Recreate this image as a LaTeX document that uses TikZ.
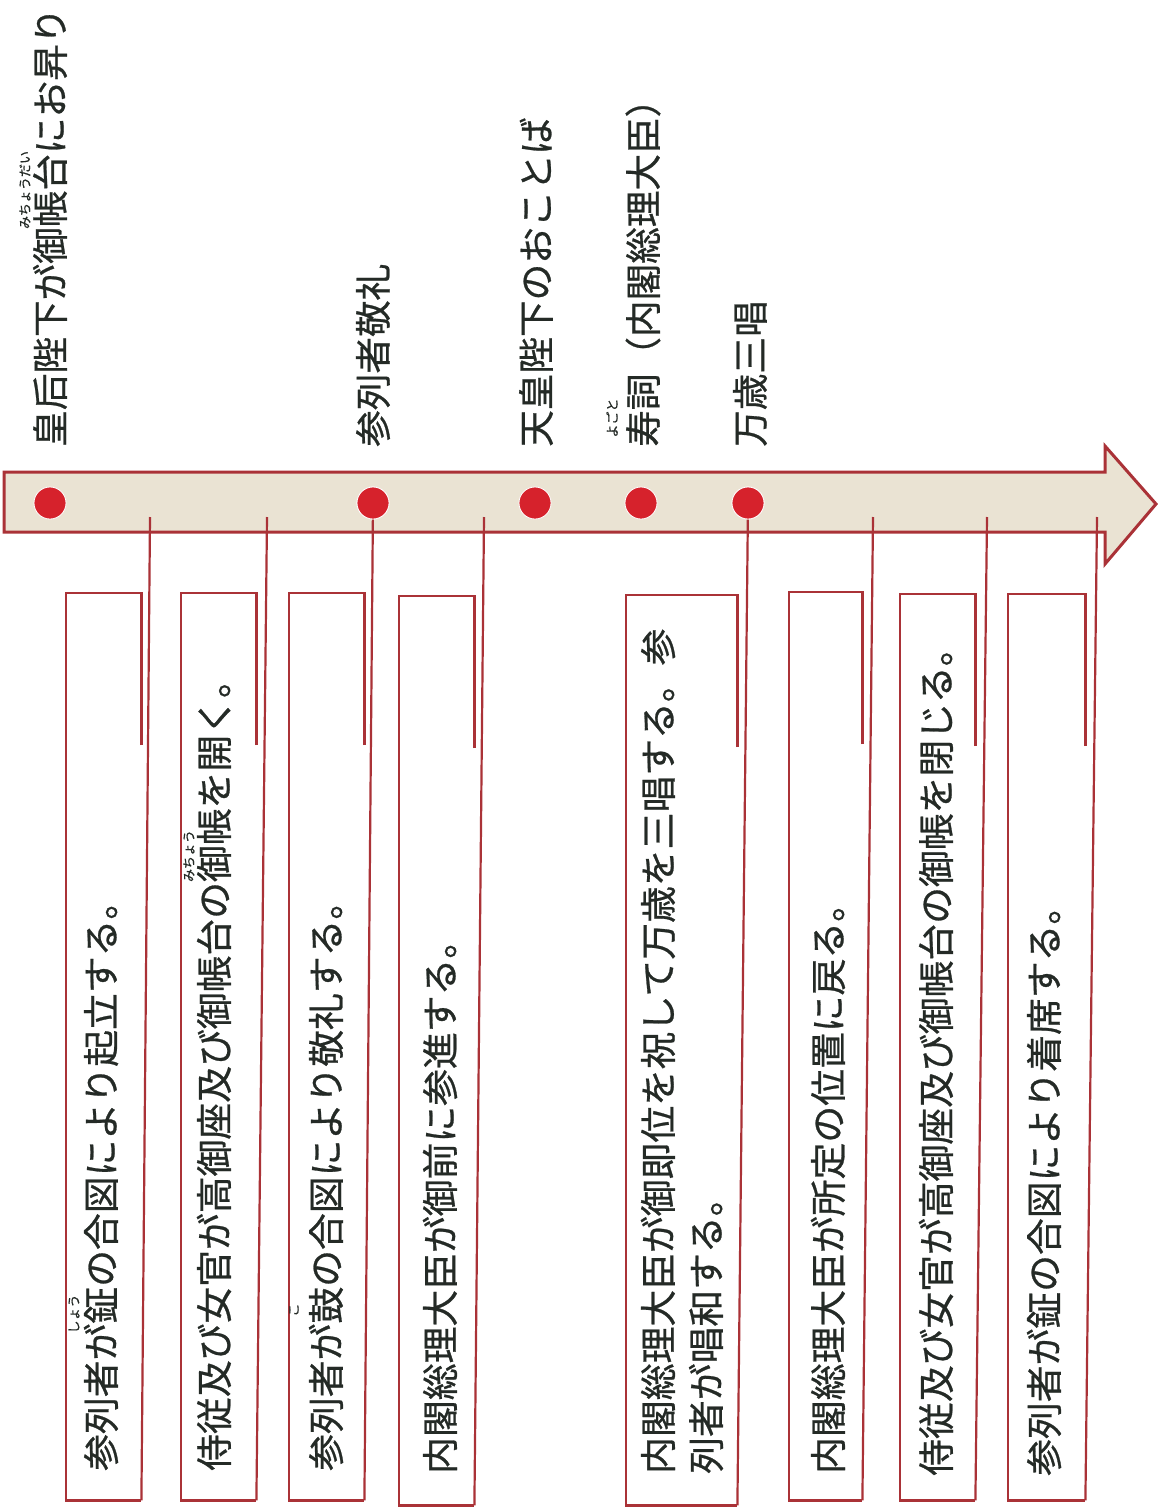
\documentclass[tikz,border=0pt]{standalone}
\usepackage{fontspec}
\newfontfamily\jp[FakeBold=0.7]{Noto Sans CJK JP}
\definecolor{bord}{RGB}{170,50,55}
\definecolor{dotred}{RGB}{214,34,44}
\definecolor{bandfill}{RGB}{234,227,211}
\definecolor{ink}{RGB}{36,42,38}
\tikzset{
  lbl/.style={rotate=90, anchor=west, inner sep=0pt, text=ink, font=\jp\fontsize{36.6}{40}\selectfont},
  btxt/.style={rotate=90, anchor=west, inner sep=0pt, text=ink, font=\jp\fontsize{36.8}{40}\selectfont},
  rb/.style={rotate=90, anchor=center, inner sep=0pt, text=ink, font=\jp\fontsize{13}{14}\selectfont},
  boxn/.style={rectangle, draw=none, inner sep=0pt, anchor=north west},
  boxline/.style={draw=bord, line width=2.2pt},
  conn/.style={draw=bord, line width=2.2pt},
  dotn/.style={circle, fill=dotred, draw=white, line width=0.8pt, minimum size=32pt, inner sep=0pt},
}
\begin{document}
\begin{tikzpicture}[x=1pt,y=-1pt]
\useasboundingbox (0,0) rectangle (1160,1509);
\fill[white] (0,0) rectangle (1160,1509);
% timeline arrow
\draw[draw=bord, fill=bandfill, line width=3pt, line join=miter]
  (4,472) -- (1105,472) -- (1105,446) -- (1156,504) -- (1105,564) -- (1105,532) -- (4,532) -- cycle;
% band connection points
\coordinate (t1) at (150,517);
\coordinate (t2) at (267,517);
\coordinate (t4) at (484,517);
\coordinate (t6) at (873,517);
\coordinate (t7) at (987,517);
\coordinate (t8) at (1097,517);
% dots
\node[dotn] (d1) at (50,503) {};
\node[dotn] (d2) at (373,503) {};
\node[dotn] (d3) at (535,503) {};
\node[dotn] (d4) at (641,503) {};
\node[dotn] (d5) at (748,503) {};
% boxes
\node[boxn, minimum width=75pt, minimum height=907pt] (b1) at (66,593) {};
\node[boxn, minimum width=75pt, minimum height=907pt] (b2) at (181,593) {};
\node[boxn, minimum width=75pt, minimum height=907pt] (b3) at (289,593) {};
\node[boxn, minimum width=75pt, minimum height=909pt] (b4) at (399,596) {};
\node[boxn, minimum width=111pt, minimum height=910pt] (b5) at (626,595) {};
\node[boxn, minimum width=73pt, minimum height=908pt] (b6) at (789,592) {};
\node[boxn, minimum width=75pt, minimum height=906pt] (b7) at (900,594) {};
\node[boxn, minimum width=77pt, minimum height=906pt] (b8) at (1008,594) {};
\foreach \b in {b1,b2,b3,b4,b5,b6,b7,b8}{
  \draw[boxline] ([yshift=-152pt]\b.north east) -- (\b.north east) -- (\b.north west) -- (\b.south west) -- (\b.south east);
}
% connectors
\draw[conn] (t1) -- (b1.south east);
\draw[conn] (t2) -- (b2.south east);
\draw[conn] (d2) -- (b3.south east);
\draw[conn] (t4) -- (b4.south east);
\draw[conn] (d5) -- (b5.south east);
\draw[conn] (t6) -- (b6.south east);
\draw[conn] (t7) -- (b7.south east);
\draw[conn] (t8) -- (b8.south east);
% redraw dots on top
\node[dotn] at (d2) {};
\node[dotn] at (d5) {};
% top labels
\node[lbl] (l1) at (50,447) {皇后陛下が御帳台にお昇り};
\node[rb] (r1) at (25,190) {みちょうだい};
\node[lbl] (l2) at (373,447) {参列者敬礼};
\node[lbl] (l3) at (536,447) {天皇陛下のおことば};
\node[lbl] (l4) at (643,447) {寿詞（内閣総理大臣）};
\node[rb] (r4) at (612,418) {よごと};
\node[lbl] (l5) at (750,447) {万歳三唱};
% box texts
\node[btxt] (x1) at (101,1471) {参列者が鉦の合図により起立する。};
\node[rb] (rx1) at (74,1314) {しょう};
\node[btxt] (x2) at (214,1471) {侍従及び女官が高御座及び御帳台の御帳を開く。};
\node[rb] (rx2) at (189,856) {みちょう};
\node[btxt] (x3) at (326,1471) {参列者が鼓の合図により敬礼する。};
\node[rb] (rx3) at (294,1310) {こ};
\node[btxt] (x4) at (440,1474) {内閣総理大臣が御前に参進する。};
\node[btxt] (x5a) at (658,1474) {内閣総理大臣が御即位を祝して万歳を三唱する。参};
\node[btxt] (x5b) at (706,1474) {列者が唱和する。};
\node[btxt] (x6) at (828,1474) {内閣総理大臣が所定の位置に戻る。};
\node[btxt] (x7) at (936,1476) {侍従及び女官が高御座及び御帳台の御帳を閉じる。};
\node[btxt] (x8) at (1044,1476) {参列者が鉦の合図により着席する。};
\end{tikzpicture}
\end{document}
